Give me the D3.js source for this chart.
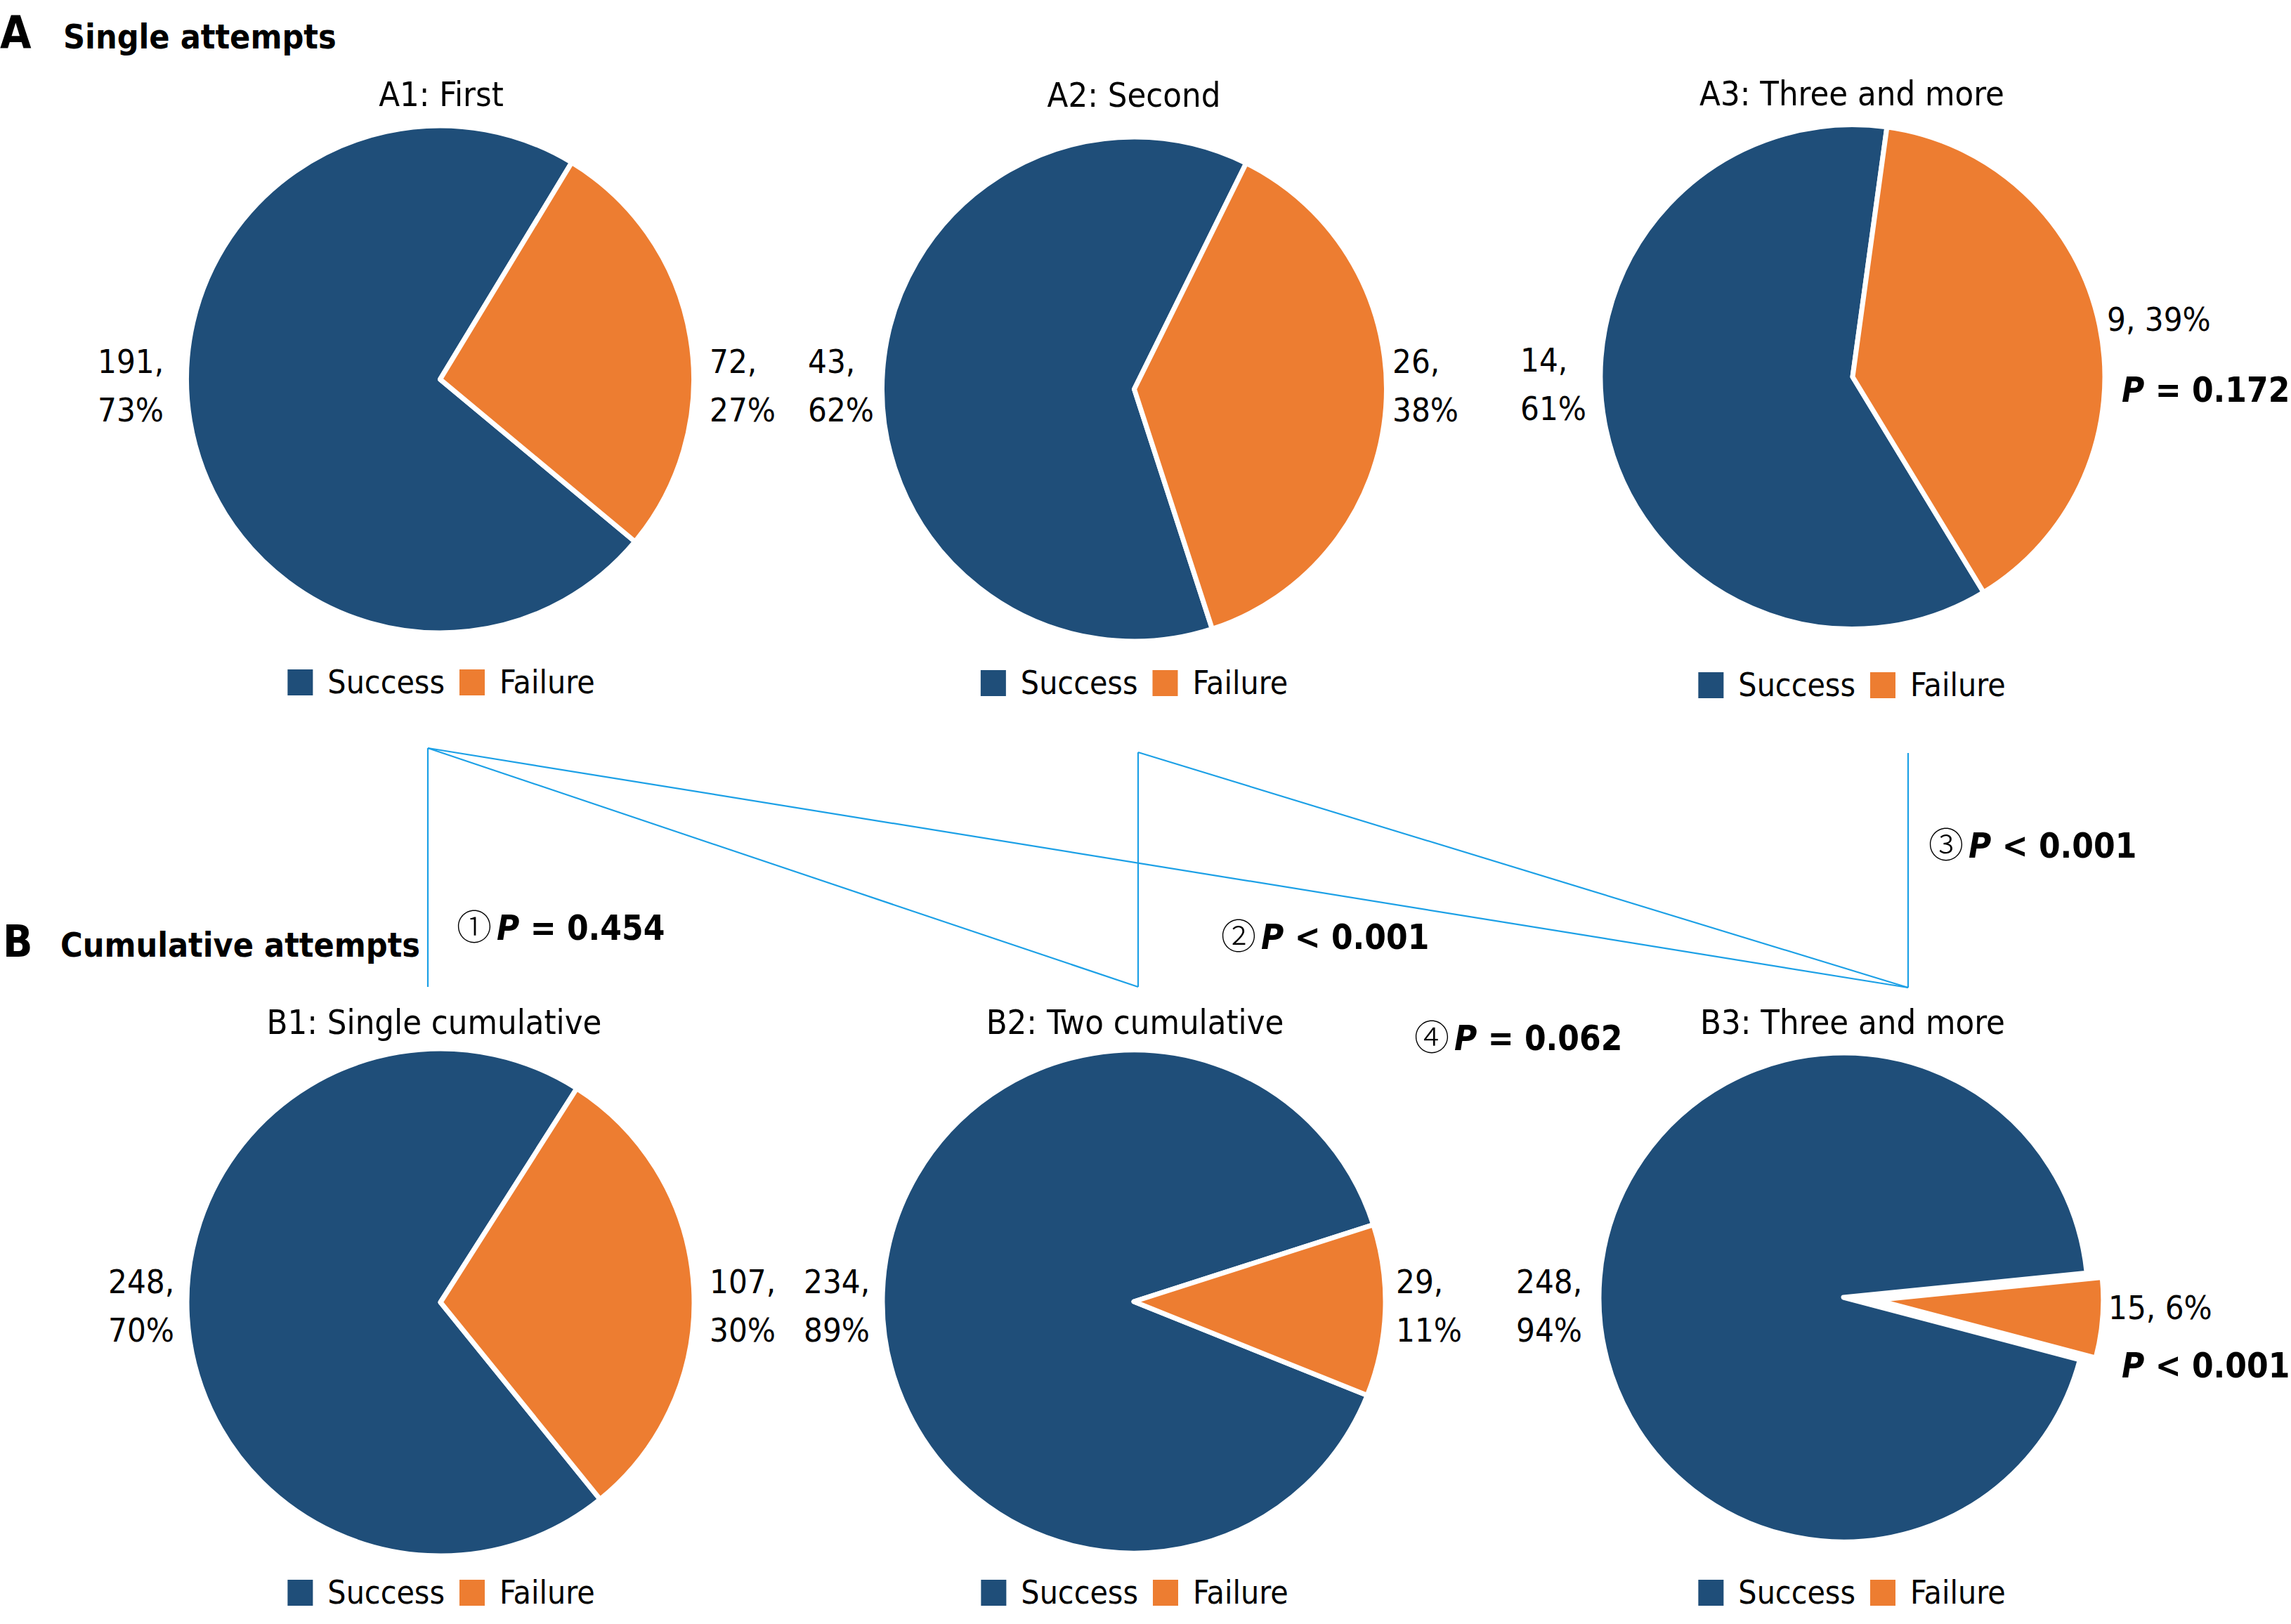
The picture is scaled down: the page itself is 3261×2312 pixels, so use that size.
<!DOCTYPE html>
<html>
<head>
<meta charset="utf-8">
<script src="https://cdn.jsdelivr.net/npm/d3@7"></script>
<style>
  html, body { margin: 0; padding: 0; background: #ffffff; }
  svg { display: block; }
  .t { font-family: 'DejaVu Sans Condensed', 'DejaVu Sans', sans-serif; font-stretch: condensed; fill: #000; }
</style>
</head>
<body>
<svg id="chart" width="3261" height="2312"></svg>
<script>
// ---------------- DATA ----------------
const chartTitles = ["A1: First", "A2: Second", "A3: Three and more",
                     "B1: Single cumulative", "B2: Two cumulative", "B3: Three and more"];
const categories = ["Success", "Failure"];
const successCounts = [191, 43, 14, 248, 234, 248];
const failureCounts = [72, 26, 9, 107, 29, 15];
const panelLetters = ["A", "B"];
const panelTitles = ["Single attempts", "Cumulative attempts"];
const comparisonMarks = ["\u2460", "\u2461", "\u2462", "\u2463"];
const comparisonPValues = ["= 0.454", "< 0.001", "< 0.001", "= 0.062"];
const trendPValues = ["= 0.172", "< 0.001"];

// ---------------- LAYOUT / STYLE ----------------
const colors = d3.scaleOrdinal().domain(categories).range(["#1f4e79", "#ed7d31"]);
const FS = 46;       // legend
const FS_LAB = 47;   // data labels
const FS_TITLE = 48.5; // chart titles
const FS_P = 49;     // bold p-values
const layout = [
  {cx: 626.5, cy: 540,  r: 361, rot: 129.8, tx: 628,  ty: 151,  lx: 628,  ly: 953,  labL: [139, 531],  labR: [1010, 531], singleR: false},
  {cx: 1614.5, cy: 554, r: 359, rot: 162.0, tx: 1614, ty: 152,  lx: 1614.5, ly: 954, labL: [1150, 531], labR: [1982, 531], singleR: false},
  {cx: 2637, cy: 536.5, r: 359, rot: 148.7, tx: 2636, ty: 150,  lx: 2636, ly: 957,  labL: [2164, 529], labR: [2999, 471], singleR: true},
  {cx: 627,  cy: 1854, r: 361, rot: 141.0, tx: 618,  ty: 1472, lx: 628,  ly: 2249, labL: [154, 1841], labR: [1010, 1841], singleR: false},
  {cx: 1614, cy: 1853, r: 358, rot: 111.9, tx: 1615.5, ty: 1472, lx: 1615, ly: 2249, labL: [1144, 1841], labR: [1987, 1841], singleR: false},
  {cx: 2624, cy: 1847, r: 348, rot: 104.8, tx: 2637, ty: 1472, lx: 2636, ly: 2249, labL: [2158, 1841], labR: [3001, 1878], singleR: true,
   explode: {offset: 48, r: 322}}
];
const lineH = 69;
const connectors = [
  [[609, 1065], [609, 1405]],
  [[609, 1065], [1620, 1405]],
  [[609, 1065], [2716, 1406]],
  [[1620, 1071], [1620, 1405]],
  [[1620, 1071], [2716, 1406]],
  [[2716, 1072], [2716, 1406]]
];
const compPos = [[650, 1338], [1738, 1351], [2745, 1221], [2013, 1495]];
const trendPos = [[3020, 572], [3020, 1961]];

// ---------------- DRAW ----------------
const svg = d3.select("#chart");
svg.append("rect").attr("width", 3261).attr("height", 2312).attr("fill", "#fff");

// panel headings
const headPos = [{lx: 0, ly: 69, hx: 90, hy: 69, lfs: 64}, {lx: 4, ly: 1362, hx: 86, hy: 1362, lfs: 62}];
panelLetters.forEach((L, i) => {
  svg.append("text").attr("class", "t").attr("x", headPos[i].lx).attr("y", headPos[i].ly)
    .attr("font-size", headPos[i].lfs).attr("font-weight", "bold").text(L);
  svg.append("text").attr("class", "t").attr("x", headPos[i].hx).attr("y", headPos[i].hy)
    .attr("font-size", 48).attr("font-weight", "bold").text(panelTitles[i]);
});

// connectors
const lineGen = d3.line();
svg.append("g").selectAll("path").data(connectors).join("path")
  .attr("d", d => lineGen(d)).attr("fill", "none")
  .attr("stroke", "#1ca0e6").attr("stroke-width", 2.2);

const pct = d3.format(".0%");

chartTitles.forEach((title, i) => {
  const L = layout[i];
  const vals = [successCounts[i], failureCounts[i]];
  const total = d3.sum(vals);
  const rot = L.rot * Math.PI / 180;
  const pie = d3.pie().sort(null).value(d => d.v).startAngle(rot).endAngle(rot + 2 * Math.PI);
  const arcs = pie(categories.map((c, k) => ({c, v: vals[k]})));
  const g = svg.append("g").attr("transform", `translate(${L.cx},${L.cy})`);
  g.selectAll("path").data(arcs).join("path")
    .attr("d", d => {
      if (L.explode && d.data.c === "Failure") {
        return d3.arc().innerRadius(0).outerRadius(L.explode.r)(d);
      }
      return d3.arc().innerRadius(0).outerRadius(L.r)(d);
    })
    .attr("transform", d => {
      if (L.explode && d.data.c === "Failure") {
        const m = (d.startAngle + d.endAngle) / 2;
        return `translate(${L.explode.offset * Math.sin(m)},${-L.explode.offset * Math.cos(m)})`;
      }
      return null;
    })
    .attr("fill", d => colors(d.data.c))
    .attr("stroke", "#fff").attr("stroke-width", 7).attr("stroke-linejoin", "round");

  // title
  svg.append("text").attr("class", "t").attr("x", L.tx).attr("y", L.ty)
    .attr("text-anchor", "middle").attr("font-size", FS_TITLE).text(title);

  // data labels
  const addLabel = (pos, v, single) => {
    const t = svg.append("text").attr("class", "t").attr("font-size", FS_LAB);
    if (single) {
      t.attr("x", pos[0]).attr("y", pos[1]).text(`${v}, ${pct(v / total)}`);
    } else {
      t.append("tspan").attr("x", pos[0]).attr("y", pos[1]).text(`${v},`);
      t.append("tspan").attr("x", pos[0]).attr("y", pos[1] + lineH).text(pct(v / total));
    }
  };
  addLabel(L.labL, vals[0], false);
  addLabel(L.labR, vals[1], L.singleR);

  // legend
  const lg = svg.append("g");
  let x = 0;
  const sq = 36, gapT = 21, gapI = 21;
  categories.forEach((c, k) => {
    lg.append("rect").attr("x", x).attr("y", 0).attr("width", sq).attr("height", sq + 1).attr("fill", colors(c));
    x += sq + gapT;
    const tt = lg.append("text").attr("class", "t").attr("x", x).attr("y", sq - 2)
      .attr("font-size", FS).text(c);
    x += tt.node().getComputedTextLength() + gapI;
  });
  const w = x - gapI;
  lg.attr("transform", `translate(${L.lx - w / 2},${L.ly})`);
});

// comparison p-values
comparisonMarks.forEach((m, i) => {
  const t = svg.append("text").attr("class", "t").attr("x", compPos[i][0]).attr("y", compPos[i][1])
    .attr("font-size", FS_P).attr("font-weight", "bold");
  t.append("tspan").attr("font-family", "'Noto Sans CJK SC', sans-serif").attr("font-weight", 300)
    .attr("font-size", 50).text(m);
  t.append("tspan").attr("dx", 7).attr("font-style", "italic").text("P");
  t.append("tspan").text(" " + comparisonPValues[i]);
});

// trend p-values
trendPValues.forEach((p, i) => {
  const t = svg.append("text").attr("class", "t").attr("x", trendPos[i][0]).attr("y", trendPos[i][1])
    .attr("font-size", FS_P).attr("font-weight", "bold");
  t.append("tspan").attr("font-style", "italic").text("P");
  t.append("tspan").text(" " + p);
});
</script>
</body>
</html>
